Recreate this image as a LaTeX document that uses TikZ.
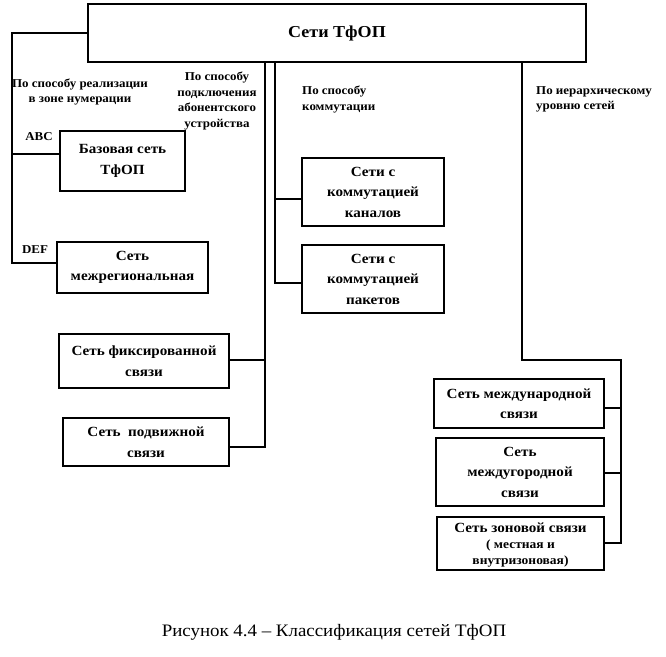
\documentclass[tikz,border=0pt]{standalone}
\usepackage{fontspec}
\setmainfont{Liberation Serif}[FakeStretch=1.08]
\begin{document}
\begin{tikzpicture}[x=1pt,y=-1pt,
  box/.style={draw=black,line width=2pt,fill=white,align=center,inner sep=2pt,
    font=\bfseries\fontsize{14}{20.5}\selectfont},
  boxtext/.style={align=center,inner sep=0pt,font=\bfseries\fontsize{14}{16}\selectfont},
  lab/.style={align=center,inner sep=0pt,font=\bfseries\fontsize{12}{15.8}\selectfont},
  conn/.style={draw=black,line width=1.3pt}]
\useasboundingbox[fill=white] (0,0) rectangle (666,656);
% nodes
\node[box,minimum width=498pt,minimum height=58pt,font=\bfseries\fontsize{16.7}{20}\selectfont] (top) at (337,33) {Сети ТфОП};
\node[box,minimum width=125pt,minimum height=60pt] (bas) at (122.5,161) {Базовая сеть\\ТфОП};
\node[box,minimum width=151pt,minimum height=51pt] (mreg) at (132.5,267.5) {Сеть\\межрегиональная};
\node[box,minimum width=170pt,minimum height=54pt] (fix) at (144,361) {Сеть фиксированной\\связи};
\node[box,minimum width=166pt,minimum height=48pt] (mob) at (146,442) {Сеть\ \ подвижной\\связи};
\node[box,minimum width=142pt,minimum height=68pt] (kan) at (373,192) {Сети с\\коммутацией\\каналов};
\node[box,minimum width=142pt,minimum height=68pt] (pak) at (373,279) {Сети с\\коммутацией\\пакетов};
\node[box,minimum width=170pt,minimum height=49pt] (intl) at (519,403.5) {Сеть международной\\связи};
\node[box,minimum width=168pt,minimum height=68pt] (ldist) at (520,472) {Сеть\\междугородной\\связи};
\node[box,minimum width=167pt,minimum height=53pt] (zone) at (520.5,543.5) {};
\node[boxtext] (zonetext) at (520.5,545.5) {Сеть зоновой связи\\{\fontsize{12.5}{15}\selectfont ( местная и}\\{\fontsize{12.5}{15}\selectfont внутризоновая)}};
% labels
\node[lab] (l1) at (80,92) {По способу реализации\\в зоне нумерации};
\node[lab] (l2) at (217,101) {По способу\\подключения\\абонентского\\устройства};
\node[lab,align=left,anchor=north west] (l3) at (302,86) {По способу\\коммутации};
\node[lab,align=left,anchor=north west] (l4) at (536,86) {По иерархическому\\уровню сетей};
\node[lab] (abc) at (39,137) {ABC};
\node[lab] (def) at (35,250) {DEF};
\node[font=\fontsize{17.5}{20}\selectfont,inner sep=0pt] (cap) at (334,632) {Рисунок 4.4 – Классификация сетей ТфОП};
% coordinates
\coordinate (L0) at (12,33);
\coordinate (L1) at (12,154);
\coordinate (L2) at (12,263);
\coordinate (A1) at (265,360);
\coordinate (A2) at (265,447);
\coordinate (B1) at (275,199);
\coordinate (B2) at (275,283);
\coordinate (C0) at (522,360);
\coordinate (C1) at (621,360);
\coordinate (C2) at (621,408);
\coordinate (C3) at (621,473);
\coordinate (C4) at (621,543);
% connectors
\draw[conn] (top.west) -- (L0) -- (L2) -- (mreg.west |- L2);
\draw[conn] (L1) -- (bas.west |- L1);
\draw[conn] (top.south -| A1) -- (A2) -- (mob.east |- A2);
\draw[conn] (A1) -- (fix.east |- A1);
\draw[conn] (top.south -| B1) -- (B2) -- (pak.west |- B2);
\draw[conn] (B1) -- (kan.west |- B1);
\draw[conn] (top.south -| C0) -- (C0) -- (C1) -- (C4) -- (zone.east |- C4);
\draw[conn] (C2) -- (intl.east |- C2);
\draw[conn] (C3) -- (ldist.east |- C3);
\end{tikzpicture}
\end{document}
